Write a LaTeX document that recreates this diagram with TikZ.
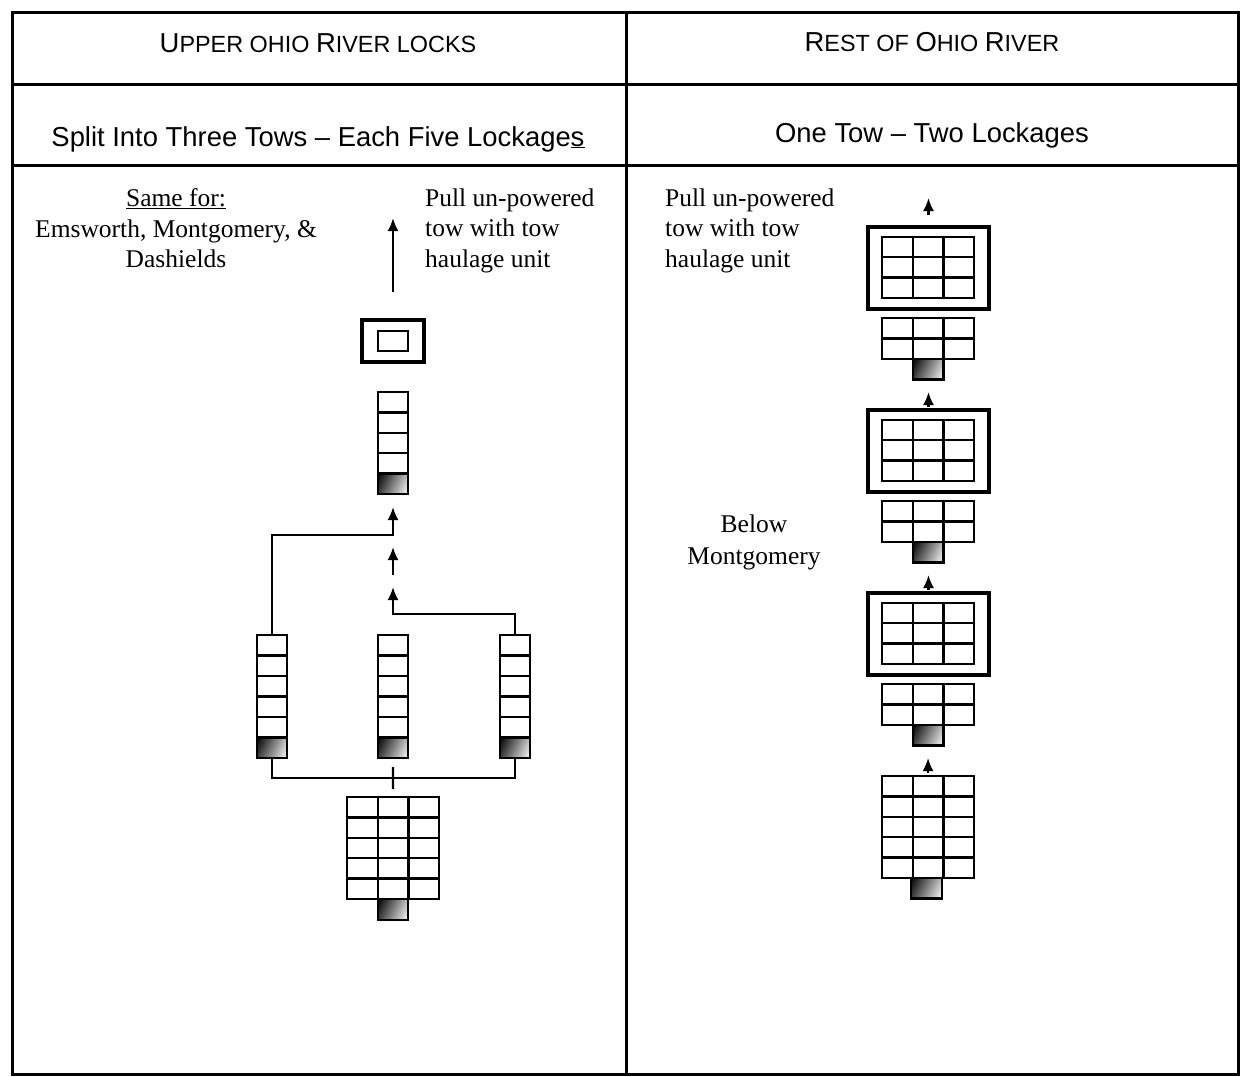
\documentclass[tikz,border=0pt]{standalone}
\usepackage{fontspec}
\setmainfont{Liberation Serif}
\newfontfamily\hsans{Liberation Sans}
\usetikzlibrary{arrows.meta,calc,shadings}

\newcommand{\BigC}[1]{{\fontsize{27.4}{30}\selectfont #1}}
\newcommand{\SmC}[1]{{\fontsize{23.4}{28}\selectfont #1}}

\tikzset{
  frameline/.style={line width=3pt},
  gridline/.style={line width=2.3pt},
  cellbox/.style={draw, line width=2.3pt, inner sep=0pt, outer sep=0pt},
  towbox/.style={cellbox, upper left=black, upper right=black!25, lower left=black!75, lower right=white},
  hauloutline/.style={draw, line width=3.2pt, inner sep=0pt, outer sep=0pt},
  flow/.style={line width=2.1pt, -{Latex[length=13pt,width=11pt]}},
  note/.style={font=\fontsize{25.5}{30.5}\selectfont, inner sep=0pt},
  headtext/.style={font=\hsans\fontsize{27.4}{30}\selectfont, inner sep=0pt},
}

% name, x, y, cols, rows, cell w, cell h
\newcommand{\bargegrid}[7]{%
  \node[cellbox, anchor=north west, minimum width=#4*#6pt, minimum height=#5*#7pt] (#1) at (#2,#3) {};
  \foreach \c in {1,...,#4}{\ifnum\c<#4\relax \draw[gridline] (#2+\c*#6,#3) -- ++(0,#5*#7);\fi}
  \foreach \r in {1,...,#5}{\ifnum\r<#5\relax \draw[gridline] (#2,#3+\r*#7) -- ++(#4*#6,0);\fi}
}
% name, x, y, w, h
\newcommand{\towboat}[5]{%
  \node[towbox, anchor=north west, minimum width=#4pt, minimum height=#5pt] (#1) at (#2,#3) {};
}

\begin{document}
\begin{tikzpicture}[x=1pt,y=-1pt]
\fill[white] (0,0) rectangle (1241,1076);
\useasboundingbox (0,0) rectangle (1241,1076);

% frame
\draw[frameline] (12,12) rectangle (1238,1074);
\draw[frameline] (626,12) -- (626,1074);
\draw[frameline] (12,84) -- (1238,84);
\draw[frameline] (12,165) -- (1238,165);

% headers
\node[headtext, anchor=base] (h1) at (318,52) {\BigC{U}\SmC{PPER OHIO }\BigC{R}\SmC{IVER LOCKS}};
\node[headtext, anchor=base] (h2) at (932,51) {\BigC{R}\SmC{EST OF }\BigC{O}\SmC{HIO }\BigC{R}\SmC{IVER}};
\node[headtext, anchor=base] (h3) at (318,146) {Split Into Three Tows – Each Five Lockage\underline{s}};
\node[headtext, anchor=base] (h4) at (932,142) {One Tow – Two Lockages};

% notes
\node[note, anchor=north, align=center] (same) at (176,188.5) {\underline{Same for:}\\ Emsworth, Montgomery, \&\\ Dashields};
\node[note, anchor=north west, align=left] (pullL) at (425,188.5) {Pull un-powered\\ tow with tow\\ haulage unit};
\node[note, anchor=north west, align=left] (pullR) at (665,188.5) {Pull un-powered\\ tow with tow\\ haulage unit};
\node[note, anchor=north, align=center, font=\fontsize{25.5}{32}\selectfont] (below) at (754,515) {Below\\ Montgomery};

% ---------- left: upper Ohio ----------
\node[hauloutline, anchor=north west, minimum width=62pt, minimum height=42pt] (haul) at (362,320) {};
\node[draw, line width=2.3pt, inner sep=0pt, minimum width=30pt, minimum height=20pt] (haulin) at (haul.center) {};

\bargegrid{topcol}{378}{392}{1}{5}{30}{20.4}
\towboat{toptow}{378}{473.6}{30}{20.4}

\bargegrid{colL}{257}{635}{1}{6}{30}{20.5}
\towboat{towL}{257}{737.5}{30}{20.5}
\bargegrid{colM}{378}{635}{1}{6}{30}{20.5}
\towboat{towM}{378}{737.5}{30}{20.5}
\bargegrid{colR}{500}{635}{1}{6}{30}{20.5}
\towboat{towR}{500}{737.5}{30}{20.5}

\bargegrid{big}{347}{797}{3}{5}{30.7}{20.4}
\towboat{bigtow}{378}{899}{30}{21}

% connectors
\draw[flow] ($(haul.north)+(0,-28)$) -- ($(haul.north)+(0,-102)$);
\draw[flow] (colL.north) |- ($(topcol.south)+(0,41)$) -- ($(topcol.south)+(0,13)$);
\draw[flow] ($(topcol.south)+(0,81)$) -- ($(topcol.south)+(0,53)$);
\draw[flow] (colR.north) |- ($(topcol.south)+(0,120)$) -- ($(topcol.south)+(0,93)$);
\draw[gridline] (colL.south) -- ++(0,20) -| (colR.south);
\draw[gridline] ($(colM.south)+(0,9)$) -- ($(big.north)+(0,-8)$);

% ---------- right: rest of Ohio ----------
\foreach \k/\b in {1/227, 2/410, 3/593}{
  \node[hauloutline, anchor=north west, minimum width=121pt, minimum height=82pt] (hb\k) at (868,\b) {};
  \bargegrid{hg\k}{882}{\b+10}{3}{3}{30.7}{20.3}
  \bargegrid{lg\k}{882}{\b+91}{3}{2}{30.7}{20.5}
  \towboat{rt\k}{912.7}{\b+132}{30.7}{20.5}
}
\bargegrid{fin}{882}{776}{3}{5}{30.7}{20.4}
\towboat{fintow}{911}{878}{30.7}{20.5}

\draw[flow] ($(hb1.north)+(0,-12)$) -- ($(hb1.north)+(0,-29)$);
\draw[flow] ($(hb2.north)+(0,-3)$) -- ($(hb2.north)+(0,-18)$);
\draw[flow] ($(hb3.north)+(0,-3)$) -- ($(hb3.north)+(0,-18)$);
\draw[flow] ($(fin.north)+(0,-3)$) -- ($(fin.north)+(0,-18)$);
\end{tikzpicture}
\end{document}
